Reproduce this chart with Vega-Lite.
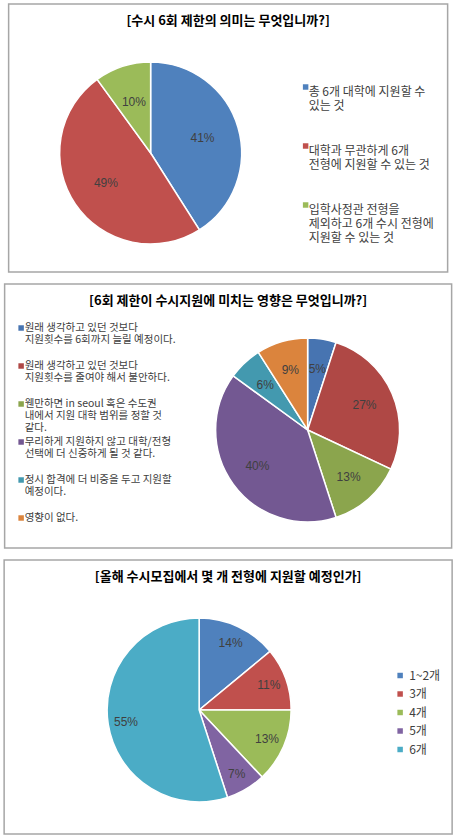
{
  "$schema": "https://vega.github.io/schema/vega-lite/v6.json",
  "padding": {"left": 3, "top": 3, "right": 0, "bottom": 0},
  "spacing": 10,
  "center": true,
  "resolve": {"scale": {"color": "independent", "y": "independent"}, "legend": {"color": "independent"}},
  "config": {
    "background": "white",
    "view": {"stroke": "#A6A6A6", "strokeWidth": 1.5},
    "font": "Noto Sans CJK KR",
    "title": {"fontSize": 13, "fontWeight": "bold", "color": "#000000", "anchor": "middle", "offset": -24},
    "legend": {"orient": "none", "padding": 0, "symbolType": "square", "symbolSize": 30, "symbolStrokeWidth": 0, "labelColor": "#404040", "labelFont": "Noto Sans CJK KR", "labelBaseline": "top", "labelOffset": 3, "labelLimit": 300}
  },
  "datasets": {
    "meaning": [
      {"label": "총 6개 대학에 지원할 수|있는 것", "share": 0.41, "o": 1},
      {"label": "대학과 무관하게 6개|전형에 지원할 수 있는 것", "share": 0.49, "o": 2},
      {"label": "입학사정관 전형을|제외하고 6개 수시 전형에|지원할 수 있는 것", "share": 0.10, "o": 3}
    ],
    "effect": [
      {"label": "원래 생각하고 있던 것보다|지원횟수를 6회까지 늘릴 예정이다.", "share": 0.05, "o": 1},
      {"label": "원래 생각하고 있던 것보다|지원횟수를 줄여야 해서 불안하다.", "share": 0.27, "o": 2},
      {"label": "웬만하면 in seoul 혹은 수도권|내에서 지원 대학 범위를 정할 것|같다.", "share": 0.13, "o": 3},
      {"label": "무리하게 지원하지 않고 대학/전형|선택에 더 신중하게 될 것 같다.", "share": 0.40, "o": 4},
      {"label": "정시 합격에 더 비중을 두고 지원할|예정이다.", "share": 0.06, "o": 5},
      {"label": "영향이 없다.", "share": 0.09, "o": 6}
    ],
    "count": [
      {"label": "1~2개", "share": 0.14, "o": 1},
      {"label": "3개", "share": 0.11, "o": 2},
      {"label": "4개", "share": 0.13, "o": 3},
      {"label": "5개", "share": 0.07, "o": 4},
      {"label": "6개", "share": 0.55, "o": 5}
    ]
  },
  "vconcat": [
    {
      "title": "[수시 6회 제한의 의미는 무엇입니까?]",
      "width": 439,
      "height": 268,
      "view": {"stroke": "#A6A6A6", "strokeWidth": 1.5},
      "data": {"name": "meaning"},
      "layer": [
        {
          "mark": {"type": "arc", "x": 142, "y": 149, "outerRadius": 91, "stroke": "white", "strokeWidth": 1.5},
          "encoding": {
            "theta": {"field": "share", "type": "quantitative", "stack": true},
            "order": {"field": "o"},
            "color": {
              "field": "label", "type": "nominal", "sort": {"field": "o"},
              "scale": {"range": ["#4F81BD", "#C0504D", "#9BBB59"]},
              "legend": {"title": null, "legendX": 291, "legendY": 77, "labelFontSize": 12, "rowPadding": 28, "labelOffset": -3,
                "labelExpr": "split(datum.label, '|')",
                "encode": {"labels": {"update": {"dy": {"value": -5}, "lineHeight": {"value": 15}}}}}
            }
          }
        },
        {
          "mark": {"type": "text", "x": 142, "y": 149, "radius": 54, "fontSize": 12, "color": "#404040", "font": "Liberation Sans"},
          "encoding": {
            "theta": {"field": "share", "type": "quantitative", "stack": true},
            "order": {"field": "o"},
            "detail": {"field": "label"},
            "text": {"field": "share", "type": "quantitative", "format": ".0%"}
          }
        }
      ]
    },
    {
      "title": "[6회 제한이 수시지원에 미치는 영향은 무엇입니까?]",
      "width": 447,
      "height": 264,
      "view": {"stroke": "#A6A6A6", "strokeWidth": 1.5},
      "data": {"name": "effect"},
      "layer": [
        {
          "mark": {"type": "arc", "x": 303, "y": 146, "outerRadius": 92, "stroke": "white", "strokeWidth": 1.5},
          "encoding": {
            "theta": {"field": "share", "type": "quantitative", "stack": true},
            "order": {"field": "o"},
            "color": {
              "field": "label", "type": "nominal", "sort": {"field": "o"},
              "scale": {"range": ["#4774B1", "#AF4845", "#8BA54D", "#735892", "#4399AF", "#DB843D"]},
              "legend": null
            }
          }
        },
        {
          "mark": {"type": "text", "x": 303, "y": 146, "radius": 62, "fontSize": 12, "color": "#404040", "font": "Liberation Sans"},
          "encoding": {
            "theta": {"field": "share", "type": "quantitative", "stack": true},
            "order": {"field": "o"},
            "detail": {"field": "label"},
            "text": {"field": "share", "type": "quantitative", "format": ".0%"}
          }
        },
        {
          "mark": {"type": "point", "shape": "square", "size": 30, "filled": true, "opacity": 1, "x": 16.5},
          "encoding": {
            "y": {"field": "o", "type": "ordinal", "scale": {"type": "point", "range": [44, 234], "padding": 0}, "axis": null},
            "color": {"field": "label", "type": "nominal", "sort": {"field": "o"}, "legend": null}
          }
        },
        {
          "mark": {"type": "text", "x": 20, "align": "left", "baseline": "top", "dy": -5, "lineBreak": "|", "lineHeight": 12, "fontSize": 10.5, "color": "#404040"},
          "encoding": {
            "y": {"field": "o", "type": "ordinal", "scale": {"type": "point", "range": [44, 234], "padding": 0}, "axis": null},
            "text": {"field": "label"}
          }
        }
      ]
    },
    {
      "title": "[올해 수시모집에서 몇 개 전형에 지원할 예정인가]",
      "width": 448,
      "height": 274,
      "view": {"stroke": "#A6A6A6", "strokeWidth": 1.5},
      "data": {"name": "count"},
      "layer": [
        {
          "mark": {"type": "arc", "x": 195, "y": 150, "outerRadius": 92, "stroke": "white", "strokeWidth": 1.5},
          "encoding": {
            "theta": {"field": "share", "type": "quantitative", "stack": true},
            "order": {"field": "o"},
            "color": {
              "field": "label", "type": "nominal", "sort": {"field": "o"},
              "scale": {"range": ["#4F81BD", "#C0504D", "#9BBB59", "#8064A2", "#4BACC6"]},
              "legend": {"title": null, "legendX": 390, "legendY": 109.5, "labelFontSize": 12, "rowPadding": 6.5, "labelBaseline": "middle"}
            }
          }
        },
        {
          "mark": {"type": "text", "x": 195, "y": 150, "radius": 74, "fontSize": 12, "color": "#404040", "font": "Liberation Sans"},
          "encoding": {
            "theta": {"field": "share", "type": "quantitative", "stack": true},
            "order": {"field": "o"},
            "detail": {"field": "label"},
            "text": {"field": "share", "type": "quantitative", "format": ".0%"}
          }
        }
      ]
    }
  ]
}
